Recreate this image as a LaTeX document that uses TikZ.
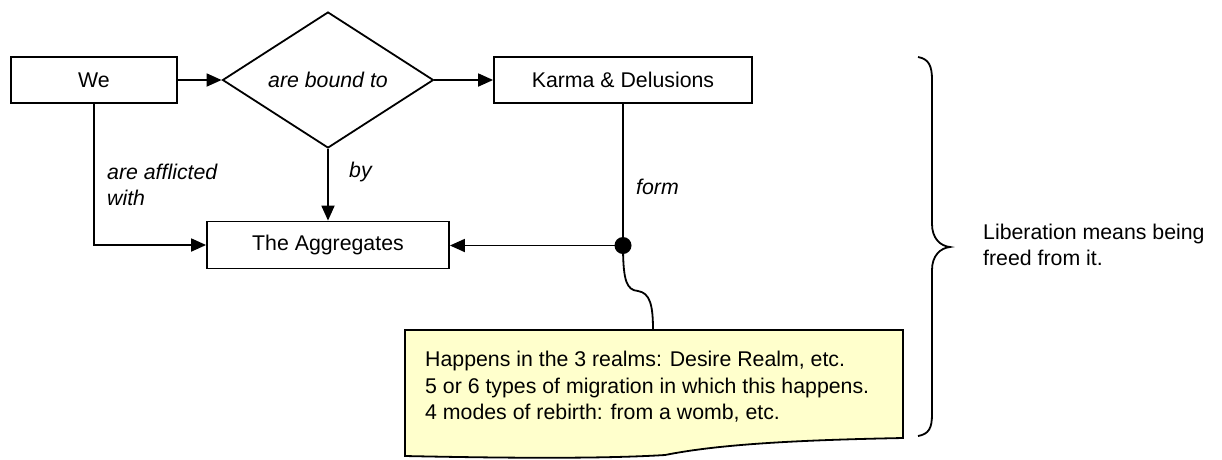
\documentclass[tikz,border=0pt]{standalone}
\usepackage{fontspec}
\setmainfont{Liberation Sans}
\usetikzlibrary{shapes.geometric,arrows.meta}
\definecolor{noteyellow}{HTML}{FFFFCC}
\begin{document}
\begin{tikzpicture}[x=1pt,y=-1pt,
  every node/.style={font=\fontsize{21.3}{26.5}\selectfont},
  box/.style={draw,line width=1.8pt,minimum height=46pt,inner sep=0pt},
  decision/.style={draw,diamond,line width=1.8pt,inner sep=0pt,minimum width=211pt,minimum height=136pt,font=\fontsize{21.3}{26.5}\selectfont\itshape},
  conn/.style={line width=1.8pt,-{Triangle[length=15pt,width=13pt]}},
  plain/.style={line width=1.8pt},
  lbl/.style={anchor=west,inner sep=0pt,align=left,font=\fontsize{21.3}{26.5}\selectfont\itshape},
  txt/.style={anchor=west,inner sep=0pt,align=left}
]
\useasboundingbox (0,0) rectangle (1222,459);

% main nodes
\node[box,minimum width=166pt] (we) at (94,80) {We};
\node[decision] (dia) at (328,80) {are bound to};
\node[box,minimum width=258pt] (karma) at (623,80) {Karma \& Delusions};
\node[box,minimum width=242pt,minimum height=47pt] (agg) at (328,245) {The Aggregates};
\node[circle,fill=black,inner sep=0pt,minimum size=17pt] (dot) at (623,245.5) {};

% connectors
\draw[conn] (we) -- (dia);
\draw[conn] (dia) -- (karma);
\draw[conn] (dia.south) -- (agg.north);
\draw[conn] (we.south) |- (agg.west);
\draw[plain] (karma.south) -- (dot.center);
\draw[conn] (dot.center) -- (dot.center -| agg.east);

% connector labels
\node[lbl] (l1) at (107,185) {are afflicted\\with};
\node[lbl] (l2) at (349,172) {by};
\node[lbl] (l3) at (636,187) {form};

% callout note
\coordinate (nt) at (653,330);
\draw[line width=1.8pt,fill=noteyellow] (405,330) -- (903,330) -- (903,438)
  .. controls (800,440) and (720,444) .. (665,455)
  .. controls (600,459) and (500,458) .. (405,456) -- cycle;
\draw[plain] (dot.center) .. controls (623,282) and (627,290) .. (638,291)
  .. controls (650,293) and (653,305) .. (nt);
\node[txt] (note) at (425,387) {Happens in the 3 realms: Desire Realm, etc.\\5 or 6 types of migration in which this happens.\\4 modes of rebirth: from a womb, etc.};

% brace
\draw[line width=1.8pt] (918,57) .. controls (929,59) and (932,66) .. (932,80)
  -- (932,224) .. controls (932,238) and (940,246) .. (950,247)
  .. controls (940,248) and (932,256) .. (932,270)
  -- (932,414) .. controls (932,428) and (929,434) .. (918,436);
\node[txt] (lib) at (983,245) {Liberation means being\\freed from it.};
\end{tikzpicture}
\end{document}
